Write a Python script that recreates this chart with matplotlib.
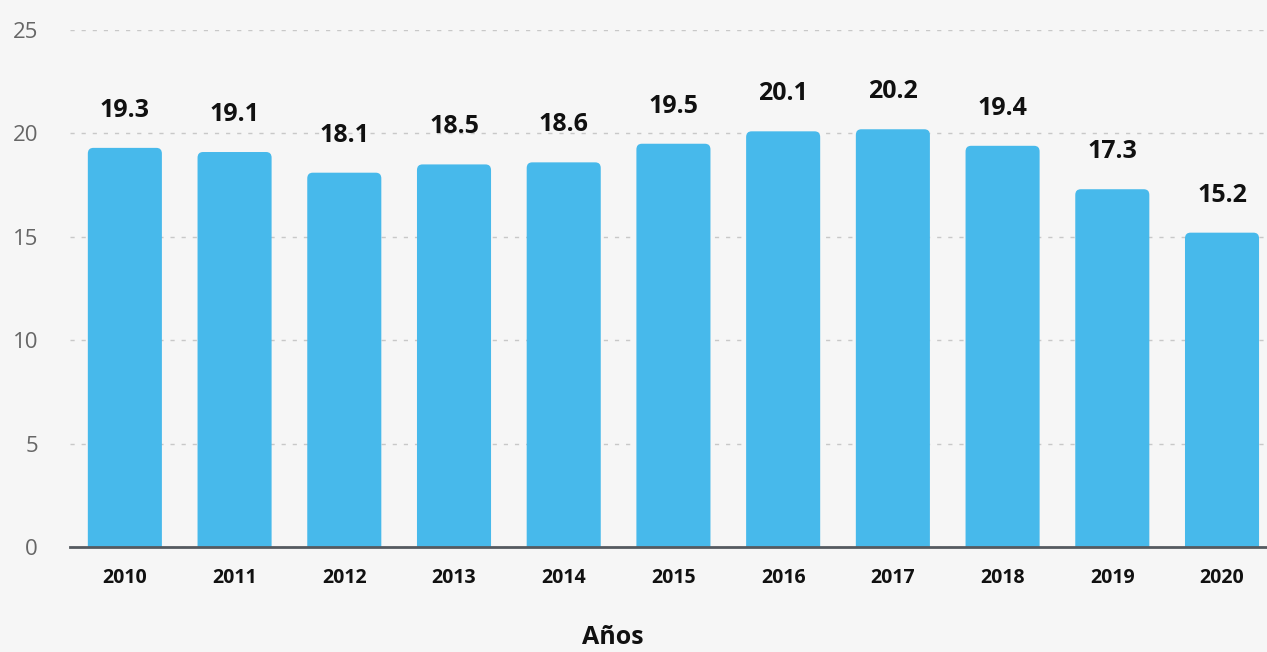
import matplotlib
matplotlib.use("Agg")
import matplotlib.pyplot as plt
from matplotlib.patches import FancyBboxPatch

plt.rcParams["font.family"] = ["Open Sans", "DejaVu Sans"]

years = ["2010", "2011", "2012", "2013", "2014", "2015", "2016", "2017", "2018", "2019", "2020"]
values = [19.3, 19.1, 18.1, 18.5, 18.6, 19.5, 20.1, 20.2, 19.4, 17.3, 15.2]
y_ticks = [0, 5, 10, 15, 20, 25]

BG = "#f6f6f6"
BAR = "#47b9eb"

W, H = 1267, 652
fig = plt.figure(figsize=(W / 100, H / 100), dpi=100, facecolor=BG)
ax = fig.add_axes([70 / W, (H - 547) / H, (W - 70) / W, (547 - 30) / H])
ax.set_facecolor(BG)

x = list(range(len(years)))
bars = ax.bar(x, values, width=0.675, color=BAR, zorder=2)

# swap plain bars for ones with rounded top corners (bottom corners sit below 0, clipped)
for b in bars:
    bx, bw, bh = b.get_x(), b.get_width(), b.get_height()
    b.set_visible(False)
    ax.add_patch(FancyBboxPatch((bx, -1), bw, bh + 1, boxstyle="round,pad=0,rounding_size=0.05",
                                mutation_aspect=5.5, facecolor=BAR, edgecolor="none", zorder=2))

for xi, v in zip(x, values):
    ax.annotate(f"{v:.1f}", (xi, v), xytext=(0, 18), textcoords="offset points",
                ha="center", va="bottom", fontsize=18, fontweight="bold", color="#111111")

ax.set_xlim(-0.5, 10.41)
ax.set_ylim(0, 25)
ax.set_yticks(y_ticks)
ax.set_xticks(x)
ax.set_xticklabels(years, fontsize=14, fontweight="bold", color="#111111")
ax.tick_params(axis="x", length=0, pad=15)
ax.tick_params(axis="y", length=0, pad=23, labelsize=16, labelcolor="#666666")

ax.grid(axis="y", color="#c8c8c8", linestyle=(0, (3, 5)), linewidth=1, zorder=0)
ax.grid(axis="x", visible=False)
for s in ["top", "right", "left"]:
    ax.spines[s].set_visible(False)
ax.spines["bottom"].set_color("#555a60")
ax.spines["bottom"].set_linewidth(2)
ax.spines["bottom"].set_zorder(3)

fig.text(613 / W, (H - 625) / H, "Años", ha="center", va="top", fontsize=18,
         fontweight="bold", color="#111111")

fig.savefig("out.png", dpi=100, facecolor=BG)
